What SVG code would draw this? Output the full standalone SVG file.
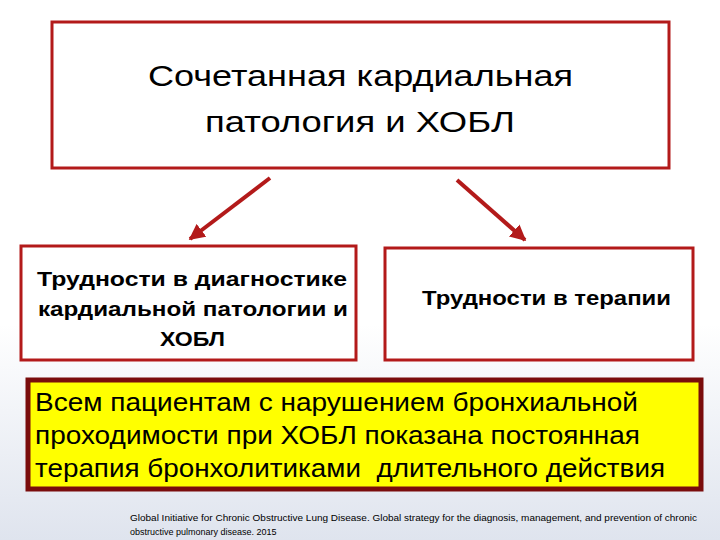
<svg xmlns="http://www.w3.org/2000/svg" width="720" height="540" viewBox="0 0 720 540">
<defs>
<linearGradient id="bg" x1="0" y1="0" x2="0" y2="1"><stop offset="0" stop-color="#ffffff"/><stop offset="0.6" stop-color="#ffffff"/><stop offset="1" stop-color="#dfe4ee"/></linearGradient>
<marker id="ah" viewBox="0 0 10 10" refX="9" refY="5" markerWidth="4" markerHeight="4" orient="auto"><path d="M0,0L10,5L0,10z" fill="#b31a1a"/></marker>
<style>
.box{fill:#fff;stroke:#b31a1a;stroke-width:3}
.t{font-family:"Liberation Sans",Arial,sans-serif;fill:#000;text-anchor:middle}
.s{text-anchor:start}
.b{font-weight:bold;font-size:21px}
</style>
</defs>
<rect width="720" height="540" fill="url(#bg)"/>
<g id="connectors" stroke="#b31a1a" stroke-width="4" fill="none">
<line x1="270" y1="178" x2="190" y2="239" marker-end="url(#ah)"/>
<line x1="457" y1="180" x2="525" y2="240" marker-end="url(#ah)"/>
</g>
<g id="top"><rect class="box" x="52" y="22" width="617" height="146"/>
<text class="t s" font-size="29" x="148" y="86" textLength="425" lengthAdjust="spacingAndGlyphs">Сочетанная кардиальная</text>
<text class="t s" font-size="29" x="205" y="132" textLength="310" lengthAdjust="spacingAndGlyphs">патология и ХОБЛ</text></g>
<g id="left"><rect class="box" x="21" y="246" width="335" height="114"/>
<text class="t s b" x="37" y="286" textLength="310" lengthAdjust="spacingAndGlyphs">Трудности в диагностике</text>
<text class="t s b" x="38" y="316" textLength="310" lengthAdjust="spacingAndGlyphs">кардиальной патологии и</text>
<text class="t s b" x="160" y="346" textLength="65" lengthAdjust="spacingAndGlyphs">ХОБЛ</text></g>
<g id="right"><rect class="box" x="385" y="248" width="308" height="112"/>
<text class="t s b" x="422" y="305" textLength="249" lengthAdjust="spacingAndGlyphs">Трудности в терапии</text></g>
<g id="note"><rect x="28" y="380" width="673" height="109" fill="#ffff00" stroke="#7a0c0c" stroke-width="5"/>
<text class="t s" font-size="26" x="35" y="411" textLength="603" lengthAdjust="spacingAndGlyphs">Всем пациентам с нарушением бронхиальной</text>
<text class="t s" font-size="26" x="35" y="444" textLength="605" lengthAdjust="spacingAndGlyphs">проходимости при ХОБЛ показана постоянная</text>
<text class="t s" font-size="26" x="35" y="477" textLength="630" lengthAdjust="spacingAndGlyphs" xml:space="preserve">терапия бронхолитиками  длительного действия</text></g>
<text class="t s" font-size="9" x="130" y="521" textLength="567" lengthAdjust="spacingAndGlyphs">Global Initiative for Chronic Obstructive Lung Disease. Global strategy for the diagnosis, management, and prevention of chronic</text>
<text class="t s" font-size="9" x="130" y="535">obstructive pulmonary disease. 2015</text>
</svg>
